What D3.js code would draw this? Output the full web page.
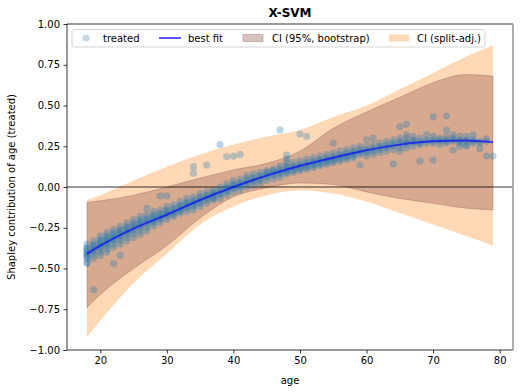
<!DOCTYPE html>
<html>
<head>
<meta charset="utf-8">
<script src="https://cdn.jsdelivr.net/npm/d3@7"></script>
<style>
  body { margin: 0; background: #ffffff; }
  text { font-family: "DejaVu Sans", sans-serif; }
</style>
</head>
<body>
<svg id="chart" width="520" height="392"></svg>
<script>
// best fit + confidence bands
var fitAges = [18, 20, 25, 30, 35, 40, 45, 50, 55, 60, 65, 70, 75, 79];
var fitVals = [-0.41, -0.36, -0.255, -0.17, -0.08, 0.0, 0.07, 0.13, 0.18, 0.225, 0.26, 0.28, 0.285, 0.275];
var bootHi = [-0.095, -0.085, -0.05, 0.0, 0.055, 0.105, 0.145, 0.22, 0.36, 0.46, 0.55, 0.64, 0.69, 0.68];
var bootLo = [-0.74, -0.66, -0.5, -0.36, -0.19, -0.06, -0.005, 0.025, 0.015, -0.03, -0.07, -0.1, -0.13, -0.14];
var splitHi = [-0.08, -0.05, 0.04, 0.125, 0.2, 0.26, 0.31, 0.35, 0.43, 0.5, 0.6, 0.7, 0.8, 0.87];
var splitLo = [-0.92, -0.82, -0.59, -0.41, -0.23, -0.12, -0.05, -0.02, -0.04, -0.09, -0.16, -0.23, -0.3, -0.36];

// treated points, grouped by age
var scatterAges = [18, 19, 20, 21, 22, 23, 24, 25, 26, 27, 28, 29, 30, 31, 32, 33, 34, 35, 36, 37, 38, 39, 40,
  41, 42, 43, 44, 45, 46, 47, 48, 49, 50, 51, 52, 53, 54, 55, 56, 57, 58, 59, 60, 61, 62, 63, 64, 65, 66, 67,
  68, 69, 70, 71, 72, 73, 74, 75, 76, 77, 78, 79];
var scatterVals = [
  [-0.35, -0.37, -0.38, -0.39, -0.40, -0.41, -0.42, -0.43, -0.44, -0.46, -0.47],
  [-0.33, -0.35, -0.36, -0.37, -0.38, -0.39, -0.40, -0.42, -0.44, -0.63],
  [-0.30, -0.32, -0.33, -0.34, -0.35, -0.36, -0.37, -0.38, -0.40, -0.42],
  [-0.28, -0.30, -0.31, -0.32, -0.33, -0.34, -0.35, -0.36, -0.38, -0.40],
  [-0.26, -0.28, -0.29, -0.30, -0.31, -0.32, -0.33, -0.35, -0.37, -0.47],
  [-0.24, -0.26, -0.27, -0.28, -0.29, -0.30, -0.31, -0.33, -0.35, -0.42],
  [-0.22, -0.24, -0.25, -0.26, -0.27, -0.28, -0.29, -0.31, -0.33],
  [-0.20, -0.22, -0.23, -0.24, -0.25, -0.26, -0.27, -0.29, -0.31],
  [-0.18, -0.20, -0.21, -0.22, -0.23, -0.24, -0.25, -0.27, -0.29],
  [-0.13, -0.17, -0.19, -0.20, -0.21, -0.22, -0.23, -0.25, -0.27],
  [-0.15, -0.17, -0.18, -0.19, -0.20, -0.21, -0.22, -0.24],
  [-0.055, -0.14, -0.16, -0.17, -0.18, -0.19, -0.20, -0.22],
  [-0.055, -0.12, -0.14, -0.15, -0.16, -0.17, -0.18, -0.20],
  [-0.11, -0.13, -0.14, -0.15, -0.16, -0.17, -0.18],
  [-0.09, -0.11, -0.12, -0.13, -0.14, -0.15, -0.16],
  [-0.07, -0.09, -0.10, -0.11, -0.12, -0.13, -0.15],
  [0.125, 0.085, -0.06, -0.08, -0.09, -0.10, -0.11, -0.12, -0.14],
  [-0.04, -0.06, -0.07, -0.08, -0.09, -0.10, -0.12],
  [0.135, -0.03, -0.05, -0.06, -0.07, -0.08, -0.10],
  [-0.02, -0.03, -0.04, -0.05, -0.06, -0.07, -0.08],
  [0.26, 0.0, -0.02, -0.03, -0.04, -0.05, -0.07],
  [0.185, 0.02, 0.0, -0.01, -0.02, -0.03, -0.05],
  [0.19, 0.04, 0.02, 0.01, 0.0, -0.01, -0.03],
  [0.20, 0.05, 0.03, 0.02, 0.01, 0.0, -0.02],
  [0.07, 0.05, 0.04, 0.03, 0.02, 0.0],
  [0.08, 0.06, 0.05, 0.04, 0.03, 0.01],
  [0.09, 0.07, 0.06, 0.05, 0.04, 0.02],
  [0.10, 0.09, 0.08, 0.07, 0.06, 0.04],
  [0.11, 0.10, 0.09, 0.08, 0.07, 0.05],
  [0.35, 0.13, 0.11, 0.10, 0.09, 0.08, 0.06],
  [0.195, 0.17, 0.15, 0.13, 0.12, 0.11, 0.10, 0.09, 0.08],
  [0.15, 0.13, 0.12, 0.11, 0.10, 0.09],
  [0.325, 0.16, 0.14, 0.13, 0.12, 0.11, 0.10],
  [0.31, 0.17, 0.15, 0.14, 0.13, 0.12, 0.11],
  [0.18, 0.16, 0.15, 0.14, 0.13, 0.12],
  [0.19, 0.17, 0.16, 0.15, 0.14, 0.13],
  [0.20, 0.18, 0.17, 0.16, 0.15, 0.14],
  [0.27, 0.21, 0.19, 0.18, 0.17, 0.16, 0.15],
  [0.22, 0.20, 0.19, 0.18, 0.17, 0.16],
  [0.23, 0.21, 0.20, 0.19, 0.18, 0.17],
  [0.24, 0.22, 0.21, 0.20, 0.19, 0.18],
  [0.25, 0.23, 0.22, 0.21, 0.20, 0.135],
  [0.29, 0.25, 0.23, 0.22, 0.21, 0.19],
  [0.30, 0.26, 0.24, 0.23, 0.22, 0.20],
  [0.27, 0.25, 0.24, 0.23, 0.21],
  [0.28, 0.26, 0.25, 0.24, 0.22],
  [0.29, 0.27, 0.26, 0.25, 0.23, 0.14],
  [0.37, 0.30, 0.28, 0.27, 0.26, 0.24, 0.22],
  [0.385, 0.32, 0.30, 0.28, 0.27, 0.26, 0.24],
  [0.31, 0.29, 0.28, 0.27, 0.25],
  [0.30, 0.28, 0.27, 0.26, 0.16],
  [0.32, 0.29, 0.28, 0.27],
  [0.43, 0.31, 0.29, 0.28, 0.27, 0.165],
  [0.30, 0.29, 0.28, 0.26],
  [0.435, 0.35, 0.31, 0.29, 0.28, 0.27],
  [0.32, 0.30, 0.29, 0.28, 0.227],
  [0.31, 0.29, 0.28, 0.27, 0.25],
  [0.31, 0.29, 0.28, 0.26, 0.25],
  [0.32, 0.29, 0.28, 0.27],
  [0.28, 0.27, 0.235],
  [0.295, 0.28, 0.19],
  [0.19]
];

var xTicks = [20, 30, 40, 50, 60, 70, 80];
var yTicks = [-1, -0.75, -0.5, -0.25, 0, 0.25, 0.5, 0.75, 1];
var legendLabels = ["treated", "best fit", "CI (95%, bootstrap)", "CI (split-adj.)"];

var width = 520, height = 392;
var margin = { left: 67, right: 7, top: 24, bottom: 42 };

var svg = d3.select("#chart");

var x = d3.scaleLinear().domain([15, 82]).range([margin.left, width - margin.right]);
var y = d3.scaleLinear().domain([-1, 1]).range([height - margin.bottom, margin.top]);

var plot = svg.append("g");

// bands
var bandData = function(lo, hi) {
  return fitAges.map(function(a, i) { return { a: a, lo: lo[i], hi: hi[i] }; });
};
var area = d3.area().curve(d3.curveMonotoneX)
  .x(function(d) { return x(d.a); })
  .y0(function(d) { return y(d.lo); })
  .y1(function(d) { return y(d.hi); });

plot.append("path").datum(bandData(splitLo, splitHi))
  .attr("d", area).attr("fill", "#ff7f0e").attr("fill-opacity", 0.3);

plot.append("path").datum(bandData(bootLo, bootHi))
  .attr("d", area).attr("fill", "#8c564b").attr("fill-opacity", 0.35)
  .attr("stroke", "#8c564b").attr("stroke-opacity", 0.35).attr("stroke-width", 1);

// zero line
plot.append("line")
  .attr("x1", margin.left).attr("x2", width - margin.right)
  .attr("y1", y(0)).attr("y2", y(0))
  .attr("stroke", "#000000").attr("stroke-width", 0.8);

// points
var points = [];
scatterAges.forEach(function(a, i) {
  scatterVals[i].forEach(function(v) { points.push({ a: a, v: v }); });
});
plot.selectAll("circle.pt").data(points).enter().append("circle")
  .attr("class", "pt")
  .attr("cx", function(d) { return x(d.a); })
  .attr("cy", function(d) { return y(d.v); })
  .attr("r", 3.6)
  .attr("fill", "#1f77b4").attr("fill-opacity", 0.3);

// best fit
var line = d3.line().curve(d3.curveMonotoneX)
  .x(function(d, i) { return x(fitAges[i]); })
  .y(function(d) { return y(d); });
plot.append("path").datum(fitVals)
  .attr("d", line).attr("fill", "none")
  .attr("stroke", "#0000ff").attr("stroke-opacity", 0.65).attr("stroke-width", 2);

// axes
var xAxis = d3.axisBottom(x).tickValues(xTicks).tickSize(3.5).tickPadding(3.5).tickFormat(d3.format("d"));
var yAxis = d3.axisLeft(y).tickValues(yTicks).tickSize(3.5).tickPadding(3.5).tickFormat(d3.format(".2f"));

var gx = svg.append("g").attr("transform", "translate(0," + (height - margin.bottom) + ")").call(xAxis);
var gy = svg.append("g").attr("transform", "translate(" + margin.left + ",0)").call(yAxis);
[gx, gy].forEach(function(g) {
  g.select(".domain").remove();
  g.selectAll("line").attr("stroke", "#000000").attr("stroke-width", 0.8);
  g.selectAll("text").attr("font-size", "10px").attr("fill", "#000000")
    .attr("font-family", "DejaVu Sans");
});

// spines
var L = margin.left, R = width - margin.right, T = margin.top, B = height - margin.bottom;
svg.append("line").attr("x1", L).attr("y1", T).attr("x2", L).attr("y2", B).attr("stroke", "#000").attr("stroke-width", 0.8);
svg.append("line").attr("x1", L).attr("y1", B).attr("x2", R).attr("y2", B).attr("stroke", "#000").attr("stroke-width", 0.8);
svg.append("line").attr("x1", L).attr("y1", T).attr("x2", R).attr("y2", T).attr("stroke", "#000").attr("stroke-width", 0.8);
svg.append("line").attr("x1", R).attr("y1", T).attr("x2", R).attr("y2", B).attr("stroke", "#999").attr("stroke-width", 1.6);

// title + labels
svg.append("text").attr("x", (L + R) / 2).attr("y", 17).attr("text-anchor", "middle")
  .attr("font-size", "12px").attr("font-weight", "bold").text("X-SVM");
svg.append("text").attr("x", (L + R) / 2).attr("y", 384).attr("text-anchor", "middle")
  .attr("font-size", "10px").text("age");
svg.append("text").attr("transform", "translate(15," + ((T + B) / 2) + ") rotate(-90)")
  .attr("text-anchor", "middle").attr("font-size", "10px")
  .text("Shapley contribution of age (treated)");

// legend
var lg = svg.append("g");
lg.append("rect").attr("x", 72).attr("y", 29.5).attr("width", 413).attr("height", 17.5)
  .attr("rx", 2).attr("fill", "#ffffff").attr("fill-opacity", 0.8)
  .attr("stroke", "#cccccc").attr("stroke-width", 0.8);
lg.append("circle").attr("cx", 86).attr("cy", 38).attr("r", 3.6)
  .attr("fill", "#1f77b4").attr("fill-opacity", 0.27);
lg.append("line").attr("x1", 159).attr("x2", 181).attr("y1", 38).attr("y2", 38)
  .attr("stroke", "#0000ff").attr("stroke-opacity", 0.65).attr("stroke-width", 2);
lg.append("rect").attr("x", 243).attr("y", 34.5).attr("width", 20).attr("height", 7)
  .attr("fill", "#8c564b").attr("fill-opacity", 0.35)
  .attr("stroke", "#8c564b").attr("stroke-opacity", 0.35);
lg.append("rect").attr("x", 389).attr("y", 34.5).attr("width", 20).attr("height", 7)
  .attr("fill", "#ff7f0e").attr("fill-opacity", 0.3);
var labelX = [103, 188, 272, 417];
legendLabels.forEach(function(t, i) {
  lg.append("text").attr("x", labelX[i]).attr("y", 41.5).attr("font-size", "10px").text(t);
});
</script>
</body>
</html>
